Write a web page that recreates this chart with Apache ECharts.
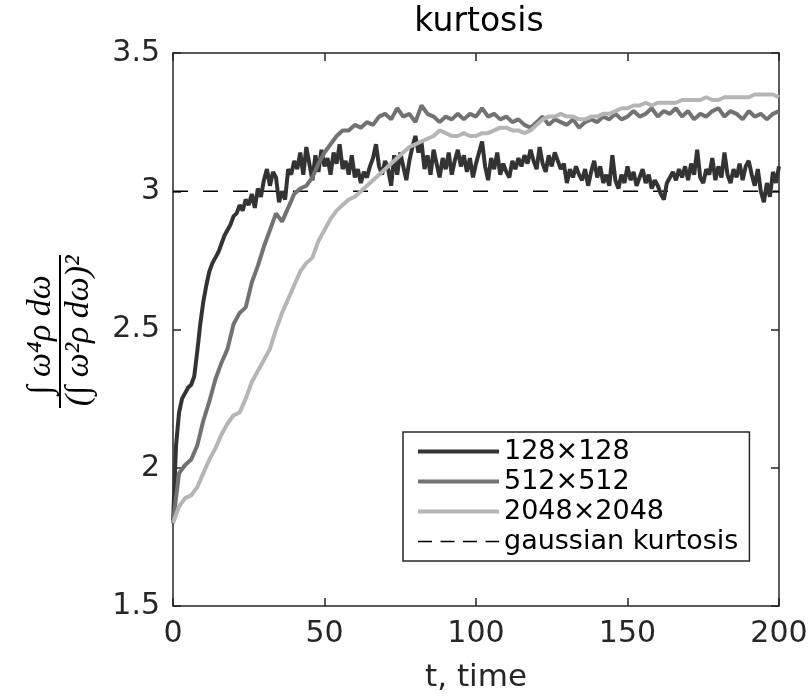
<!DOCTYPE html>
<html>
<head>
<meta charset="utf-8">
<script src="https://cdn.jsdelivr.net/npm/echarts@6/dist/echarts.min.js"></script>
<style>html,body{margin:0;padding:0;background:#fff;}#c{width:811px;height:698px;}</style>
</head>
<body>
<div id="c"></div>
<script>
// ---- data ----
const seriesNames = ['128\u00d7128', '512\u00d7512', '2048\u00d72048', 'gaussian kurtosis'];
const xTicks = [0, 50, 100, 150, 200];
const yTicks = [1.5, 2, 2.5, 3, 3.5];
const gaussianValue = 3;

// 128x128, sampled every 1 time unit (t = 0..200)
const dt128 = 1;
const k128 = [
1.80,2.08,2.20,2.25,2.27,2.29,2.30,2.33,2.42,2.52,
2.60,2.66,2.71,2.74,2.76,2.78,2.81,2.84,2.86,2.88,
2.91,2.92,2.95,2.93,2.97,2.95,2.99,2.94,3.01,2.98,
3.04,3.08,3.02,3.07,3.05,2.96,3.00,2.97,3.08,3.06,
3.11,3.08,3.14,3.06,3.16,3.10,3.04,3.13,3.07,3.15,
3.09,3.12,3.06,3.14,3.10,3.17,3.08,3.11,3.06,3.13,
3.05,3.08,3.03,3.07,3.05,3.09,3.12,3.17,3.09,3.06,
3.11,3.08,3.02,3.13,3.06,3.14,3.09,3.04,3.11,3.16,
3.20,3.14,3.18,3.08,3.13,3.06,3.15,3.10,3.05,3.12,
3.08,3.14,3.06,3.11,3.15,3.09,3.13,3.07,3.12,3.05,
3.10,3.14,3.18,3.09,3.04,3.12,3.08,3.14,3.06,3.10,
3.07,3.05,3.11,3.08,3.12,3.09,3.13,3.10,3.15,3.11,
3.08,3.16,3.10,3.07,3.13,3.09,3.14,3.11,3.08,3.10,
3.03,3.08,3.05,3.09,3.06,3.04,3.08,3.02,3.07,3.11,
3.05,3.09,3.03,3.06,3.02,3.13,3.04,3.01,3.06,3.03,
3.09,3.04,3.07,3.02,3.05,3.08,3.03,3.06,3.01,3.04,
3.02,2.99,2.97,3.03,3.05,3.07,3.04,3.08,3.05,3.09,
3.04,3.10,3.06,3.15,3.05,3.03,3.08,3.06,3.12,3.04,
3.09,3.05,3.14,3.06,3.03,3.08,3.05,3.10,3.04,3.09,
3.11,3.06,3.02,3.08,3.00,2.96,3.03,2.98,3.07,3.03,
3.09
];

// 512x512, sampled every 2 time units (t = 0..200)
const dt512 = 2;
const k512 = [
1.80,1.98,2.01,2.03,2.08,2.17,2.24,2.32,2.38,2.43,
2.52,2.56,2.58,2.67,2.73,2.80,2.86,2.92,2.89,2.94,
2.99,3.01,3.02,3.05,3.10,3.14,3.17,3.20,3.22,3.22,
3.24,3.23,3.25,3.24,3.27,3.28,3.26,3.30,3.27,3.28,
3.25,3.31,3.28,3.27,3.25,3.27,3.26,3.28,3.26,3.28,
3.27,3.30,3.27,3.28,3.26,3.27,3.25,3.26,3.24,3.23,
3.25,3.27,3.24,3.26,3.25,3.24,3.26,3.23,3.25,3.26,
3.25,3.27,3.26,3.28,3.26,3.27,3.29,3.27,3.28,3.30,
3.27,3.29,3.28,3.30,3.27,3.29,3.26,3.28,3.27,3.29,
3.30,3.27,3.29,3.28,3.26,3.29,3.27,3.28,3.26,3.28,
3.29
];

// 2048x2048, sampled every 2 time units (t = 0..200)
const dt2048 = 2;
const k2048 = [
1.80,1.86,1.89,1.90,1.93,1.98,2.03,2.07,2.12,2.16,
2.19,2.20,2.25,2.31,2.35,2.39,2.43,2.50,2.56,2.61,
2.66,2.71,2.74,2.76,2.82,2.86,2.90,2.93,2.95,2.97,
2.98,3.00,3.02,3.04,3.06,3.08,3.10,3.12,3.14,3.16,
3.17,3.18,3.19,3.20,3.22,3.21,3.20,3.20,3.21,3.20,
3.20,3.21,3.21,3.22,3.23,3.23,3.22,3.22,3.21,3.22,
3.24,3.26,3.27,3.27,3.28,3.27,3.27,3.26,3.26,3.27,
3.27,3.28,3.28,3.29,3.30,3.30,3.31,3.31,3.32,3.31,
3.32,3.32,3.32,3.32,3.33,3.33,3.33,3.33,3.34,3.33,
3.33,3.34,3.34,3.34,3.34,3.34,3.35,3.35,3.35,3.35,
3.34
];

const seriesColors = ['#333333', '#727272', '#b5b5b5', '#000000'];
const seriesWidths = [4, 4, 4, 1.5];
const textColor = '#262626';

function pairs(vals, dt) { return vals.map((v, i) => [i * dt, v]); }

const chart = echarts.init(document.getElementById('c'), null, {renderer: 'canvas'});
const axisCommon = {
  type: 'value',
  axisLine: {show: true, onZero: false, lineStyle: {color: textColor, width: 1.5}},
  axisTick: {show: true, inside: true, length: 8, lineStyle: {color: textColor, width: 1.5}},
  splitLine: {show: false},
};
const fontFam = '"DejaVu Sans", sans-serif';
const lineSeries = (name, data, color, width) => ({
  name, type: 'line', data, xAxisIndex: 0, yAxisIndex: 0,
  symbol: 'none', showSymbol: false, animation: false,
  lineStyle: {color, width}, itemStyle: {color}
});

chart.setOption({
  animation: false,
  backgroundColor: '#ffffff',
  title: {
    text: 'kurtosis', left: 474, top: 1, textAlign: 'center',
    textStyle: {fontFamily: fontFam, fontSize: 33, fontWeight: 'normal', color: '#000'}
  },
  grid: {left: 173, right: 32, top: 53, bottom: 90, containLabel: false},
  xAxis: [
    Object.assign({}, axisCommon, {
      position: 'bottom', min: xTicks[0], max: xTicks[xTicks.length - 1], interval: 50,
      axisLabel: {show: true, margin: 13, fontSize: 30, color: textColor, fontFamily: fontFam},
      name: 't, time', nameLocation: 'middle', nameGap: 56,
      nameTextStyle: {fontSize: 31, color: textColor, fontFamily: fontFam}
    }),
    Object.assign({}, axisCommon, {
      position: 'top', min: xTicks[0], max: xTicks[xTicks.length - 1], interval: 50,
      axisLabel: {show: false}
    })
  ],
  yAxis: [
    Object.assign({}, axisCommon, {
      position: 'left', min: yTicks[0], max: yTicks[yTicks.length - 1], interval: 0.5,
      axisLabel: {show: true, margin: 13, fontSize: 30, color: textColor, fontFamily: fontFam}
    }),
    Object.assign({}, axisCommon, {
      position: 'right', min: yTicks[0], max: yTicks[yTicks.length - 1], interval: 0.5,
      axisLabel: {show: false}
    })
  ],
  legend: {
    orient: 'vertical', left: 403, top: 432,
    backgroundColor: '#fff', borderColor: textColor, borderWidth: 1.5,
    padding: [6, 11, 6, 13], itemWidth: 81, itemHeight: 14, itemGap: 3,
    textStyle: {fontSize: 27, color: '#000', fontFamily: fontFam},
    itemStyle: {opacity: 0},
    data: seriesNames.map((n, i) => ({
      name: n,
      itemStyle: {opacity: 0},
      lineStyle: {width: seriesWidths[i], color: seriesColors[i], type: i === 3 ? [14, 8.5] : 'solid'}
    }))
  },
  series: [
    lineSeries(seriesNames[0], pairs(k128, dt128), seriesColors[0], seriesWidths[0]),
    lineSeries(seriesNames[1], pairs(k512, dt512), seriesColors[1], seriesWidths[1]),
    lineSeries(seriesNames[2], pairs(k2048, dt2048), seriesColors[2], seriesWidths[2]),
    {
      name: seriesNames[3], type: 'line', symbol: 'none', showSymbol: false,
      data: [[xTicks[0], gaussianValue], [xTicks[xTicks.length - 1], gaussianValue]],
      lineStyle: {color: seriesColors[3], width: seriesWidths[3], type: [15, 15]},
      itemStyle: {color: seriesColors[3]}, z: 1
    }
  ],
  graphic: [{
    type: 'group', x: 60, y: 331, rotation: Math.PI / 2,
    children: [
      {type: 'line', shape: {x1: -77, y1: 0, x2: 76, y2: 0}, style: {stroke: '#000', lineWidth: 2}},
      {type: 'text', x: -4, y: -2, style: {text: '\u222b \u03c9\u2074\u03c1 d\u03c9',
        font: 'italic 34px "Liberation Serif", "DejaVu Serif", serif', align: 'center', verticalAlign: 'bottom', fill: '#000'}},
      {type: 'text', x: 0, y: 2, style: {text: '(\u222b \u03c9\u00b2\u03c1 d\u03c9)\u00b2',
        font: 'italic 34px "Liberation Serif", "DejaVu Serif", serif', align: 'center', verticalAlign: 'top', fill: '#000'}}
    ]
  }]
});
</script>
</body>
</html>
